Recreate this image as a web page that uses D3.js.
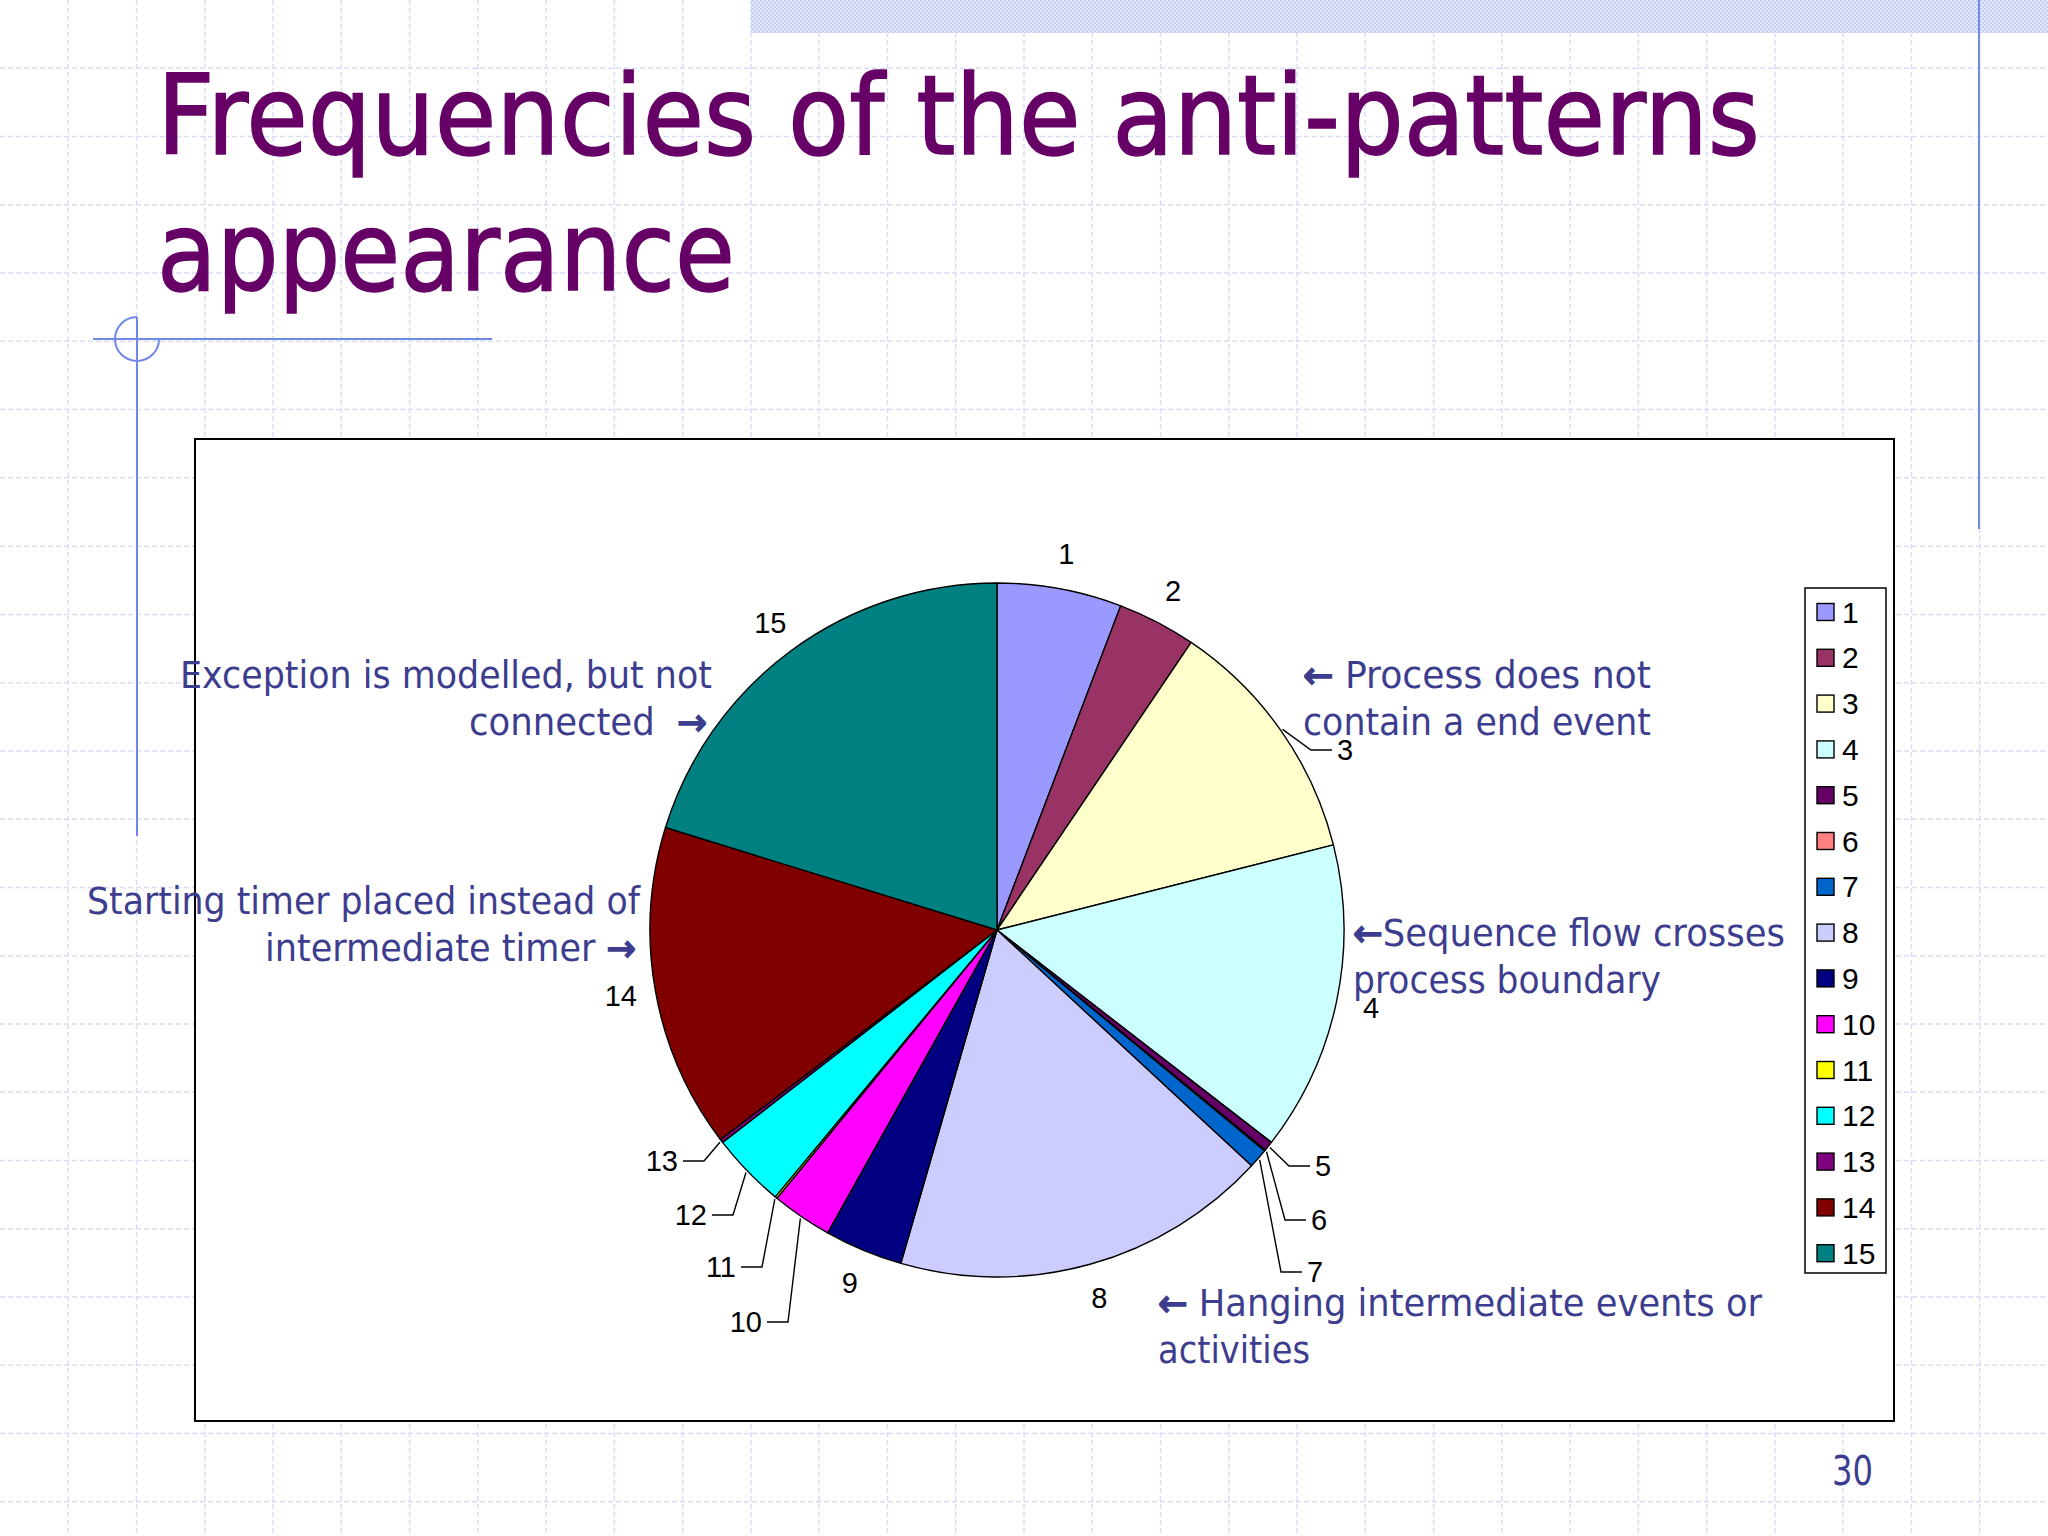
<!DOCTYPE html>
<html>
<head>
<meta charset="utf-8">
<script src="https://cdn.jsdelivr.net/npm/d3@7"></script>
<style>
  html, body { margin: 0; padding: 0; background: #fff; }
  svg { display: block; }
</style>
</head>
<body>
<svg id="slide" width="2048" height="1536"></svg>
<script>
// data
var categories = ["1", "2", "3", "4", "5", "6", "7", "8", "9", "10", "11", "12", "13", "14", "15"];
var frequencies = [35, 22, 70, 87, 2.7, 0.3, 5.5, 106, 22, 17, 0.6, 21, 1, 91, 122];
var sliceColors = ["#9999FF", "#993366", "#FFFFCC", "#CCFFFF", "#660066", "#FF8080", "#0066CC",
                   "#CCCCFF", "#000080", "#FF00FF", "#FFFF00", "#00FFFF", "#800080", "#800000", "#008080"];
var titleLines = ["Frequencies of the anti-patterns", "appearance"];
var pageNumber = "30";
var noteLines = [
    ["Exception is modelled, but not", "connected \u00a0\u2192"],
    ["\u2190 Process does not", "contain a end event"],
    ["Starting timer placed instead of", "intermediate timer \u2192"],
    ["\u2190Sequence flow crosses", "process boundary"],
    ["\u2190 Hanging intermediate events or", "activities"]
];

var W = 2048, H = 1536,
    svg = d3.select("#slide"),
    tahoma = "'DejaVu Sans', Verdana, sans-serif",
    arial = "'Liberation Sans', Arial, sans-serif",
    noteColor = "#3D3D8F",
    deco = "#7088E6";

// ---- slide background
svg.append("rect").attr("width", W).attr("height", H).attr("fill", "#fff");

var defs = svg.append("defs");
var hatch = defs.append("pattern")
    .attr("id", "hatch").attr("width", 4).attr("height", 4)
    .attr("patternUnits", "userSpaceOnUse");
hatch.append("rect").attr("width", 4).attr("height", 4).attr("fill", "#E2E7FA");
hatch.append("rect").attr("width", 2).attr("height", 2).attr("fill", "#C4CEF2");
hatch.append("rect").attr("x", 2).attr("y", 2).attr("width", 2).attr("height", 2).attr("fill", "#C4CEF2");

var step = W / 30,
    grid = svg.append("g")
        .attr("stroke", "#D9DDF5")
        .attr("stroke-width", 1.5)
        .attr("stroke-dasharray", "5,3");
grid.selectAll("line.v").data(d3.range(1, 30)).enter().append("line")
    .attr("class", "v")
    .attr("x1", function (d) { return d * step; }).attr("x2", function (d) { return d * step; })
    .attr("y1", 0).attr("y2", H);
grid.selectAll("line.h").data(d3.range(1, 23)).enter().append("line")
    .attr("class", "h")
    .attr("y1", function (d) { return d * step; }).attr("y2", function (d) { return d * step; })
    .attr("x1", 0).attr("x2", W);

svg.append("rect").attr("x", 751).attr("y", 0).attr("width", W - 751).attr("height", 33)
    .attr("fill", "url(#hatch)");
svg.append("line").attr("x1", 1979).attr("x2", 1979).attr("y1", 0).attr("y2", 529)
    .attr("stroke", deco).attr("stroke-width", 2);

// crosshair ornament
var orn = svg.append("g").attr("stroke", deco).attr("stroke-width", 2).attr("fill", "none");
orn.append("line").attr("x1", 93).attr("x2", 492).attr("y1", 339).attr("y2", 339);
orn.append("line").attr("x1", 137).attr("x2", 137).attr("y1", 317).attr("y2", 836);
orn.append("path")
    .attr("transform", "translate(137,339)")
    .attr("d", d3.arc().innerRadius(22).outerRadius(22).startAngle(Math.PI / 2).endAngle(2 * Math.PI)());

// ---- title
svg.append("g").selectAll("text").data(titleLines).enter().append("text")
    .attr("x", 157)
    .attr("y", function (d, i) { return 154 + i * 136; })
    .attr("textLength", function (d, i) { return i === 0 ? 1603 : 578; })
    .attr("lengthAdjust", "spacingAndGlyphs")
    .attr("font-family", tahoma).attr("font-size", 110)
    .attr("fill", "#660066")
    .attr("stroke", "#660066").attr("stroke-width", 1.5)
    .text(function (d) { return d; });

// ---- chart area
svg.append("rect").attr("x", 195).attr("y", 439).attr("width", 1699).attr("height", 982)
    .attr("fill", "#fff").attr("stroke", "#000").attr("stroke-width", 2);

var cx = 997, cy = 930, r = 347;
var pie = d3.pie().sort(null).value(function (d) { return d; });
var arcs = pie(frequencies);
var arc = d3.arc().innerRadius(0).outerRadius(r);
var g = svg.append("g").attr("transform", "translate(" + cx + "," + cy + ")");

g.selectAll("path.slice").data(arcs).enter().append("path")
    .attr("class", "slice")
    .attr("d", arc)
    .attr("fill", function (d, i) { return sliceColors[i]; })
    .attr("stroke", "#000").attr("stroke-width", 1.4)
    .attr("stroke-linejoin", "round");

// labels: some sit by the rim, the crowded ones are stacked with leader lines
var leaders = {
    "3": [340, -180], "5": [318, 236], "6": [314, 290], "7": [310, 342],
    "10": [-235, 392], "11": [-261, 337], "12": [-290, 285], "13": [-319, 231]
};
function midAngle(d) { return (d.startAngle + d.endAngle) / 2; }

arcs.forEach(function (d, i) {
    var name = categories[i], a = midAngle(d), pos = leaders[name];
    if (pos) {
        var side = pos[0] > 0 ? 1 : -1,
            rim = [Math.sin(a) * (r + 2), -Math.cos(a) * (r + 2)];
        g.append("path")
            .attr("d", d3.line()([rim, [pos[0] - side * 26, pos[1]], [pos[0] - side * 5, pos[1]]]))
            .attr("fill", "none").attr("stroke", "#000").attr("stroke-width", 1.4);
        g.append("text")
            .attr("x", pos[0]).attr("y", pos[1])
            .attr("text-anchor", side > 0 ? "start" : "end")
            .attr("dominant-baseline", "central")
            .attr("font-family", arial).attr("font-size", 29)
            .text(name);
    } else {
        var lr = r + 35;
        g.append("text")
            .attr("x", Math.sin(a) * lr).attr("y", -Math.cos(a) * lr)
            .attr("text-anchor", "middle")
            .attr("dominant-baseline", "central")
            .attr("font-family", arial).attr("font-size", 29)
            .text(name);
    }
});

// ---- legend
var legend = svg.append("g");
legend.append("rect").attr("x", 1805).attr("y", 588).attr("width", 81).attr("height", 685)
    .attr("fill", "#fff").attr("stroke", "#000").attr("stroke-width", 1.5);
var item = legend.selectAll("g.item").data(categories).enter().append("g")
    .attr("class", "item")
    .attr("transform", function (d, i) { return "translate(1817," + (612 + i * 45.8) + ")"; });
item.append("rect").attr("x", 0).attr("y", -8.5).attr("width", 17).attr("height", 17)
    .attr("fill", function (d, i) { return sliceColors[i]; })
    .attr("stroke", "#000").attr("stroke-width", 1.4);
item.append("text").attr("x", 25).attr("y", 0)
    .attr("dominant-baseline", "central")
    .attr("font-family", arial).attr("font-size", 30)
    .text(function (d) { return d; });

// ---- annotations
var noteLayout = [
    { x: [712, 707], anchor: "end", y: 688, len: [532, 238] },
    { x: [1303, 1303], anchor: "start", y: 688, len: [348, 348] },
    { x: [640, 636], anchor: "end", y: 914, len: [553, 371] },
    { x: [1353, 1353], anchor: "start", y: 946, len: [432, 308] },
    { x: [1158, 1158], anchor: "start", y: 1316, len: [604, 152] }
];
noteLines.forEach(function (lines, k) {
    var L = noteLayout[k];
    lines.forEach(function (t, j) {
        var txt = svg.append("text")
            .attr("x", L.x[j]).attr("y", L.y + j * 47)
            .attr("text-anchor", L.anchor)
            .attr("textLength", L.len[j]).attr("lengthAdjust", "spacingAndGlyphs")
            .attr("font-family", tahoma).attr("font-size", 37)
            .attr("fill", noteColor)
            .style("white-space", "pre");
        // arrows are heavier in the original, so give them a stroke
        t.split(/([\u2190\u2192])/).forEach(function (part) {
            if (!part) return;
            var sp = txt.append("tspan").text(part);
            if (part === "\u2190" || part === "\u2192") {
                sp.attr("stroke", noteColor).attr("stroke-width", 1.6);
            }
        });
    });
});

svg.append("text").attr("x", 1873).attr("y", 1485).attr("text-anchor", "end")
    .attr("font-family", tahoma).attr("font-size", 40)
    .attr("textLength", 41).attr("lengthAdjust", "spacingAndGlyphs")
    .attr("fill", noteColor)
    .text(pageNumber);
</script>
</body>
</html>
